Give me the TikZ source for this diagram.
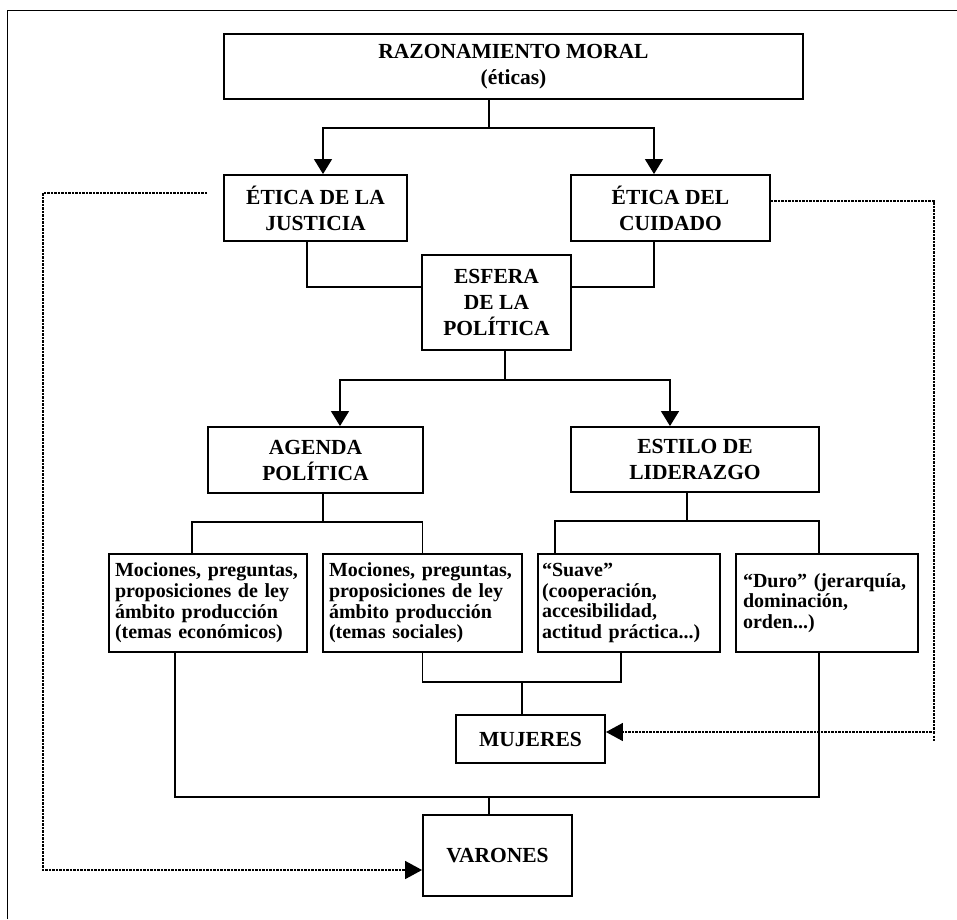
\documentclass[tikz,border=0pt]{standalone}
\usepackage{fontspec}
\setmainfont{Liberation Serif}
\usetikzlibrary{arrows.meta, calc, positioning}

\begin{document}
\begin{tikzpicture}[x=1pt, y=1pt,
	box/.style={draw, line width=1.9pt, inner sep=0pt, align=center, font=\fontsize{21.5}{26}\selectfont\bfseries},
	leaf/.style={draw, line width=1.9pt, inner xsep=6pt, inner ysep=0pt, minimum height=98pt, align=left, font=\fontsize{20}{20.7}\selectfont\bfseries},
	link/.style={line width=1.3pt},
	arr/.style={link, -{Triangle[width=18pt, length=15pt]}},
	dotline/.style={line width=1.6pt, dash pattern=on 2.4pt off 1.1pt},
	dotarr/.style={dotline, -{Triangle[width=18pt, length=17pt]}}]
			\useasboundingbox (0,0) rectangle (957,-919);
			\draw[line width=1pt] (7,-919) -- (7,-10) -- (957,-10);

			\node[box, minimum width=579pt, minimum height=65pt] (razon) at (513.5,-66.5) {RAZONAMIENTO MORAL\\(éticas)};
			\node[box, minimum width=183pt, minimum height=66pt] (justicia) at (315.5,-208) {ÉTICA DE LA\\JUSTICIA};
			\node[box, minimum width=199pt, minimum height=66pt] (cuidado) at (670.5,-208) {ÉTICA DEL\\CUIDADO};
			\node[box, minimum width=149pt, minimum height=95pt] (esfera) at (496.5,-302.5) {ESFERA\\DE LA\\POLÍTICA};
			\node[box, minimum width=215pt, minimum height=66pt] (agenda) at (315.5,-460) {AGENDA\\POLÍTICA};
			\node[box, minimum width=248pt, minimum height=65pt] (estilo) at (695,-459.5) {ESTILO DE\\LIDERAZGO};
			\node[leaf, text width=186pt] (mocEco) at (208,-603) {Mociones, preguntas,\\proposiciones de ley\\ámbito producción\\(temas económicos)};
			\node[leaf, text width=187pt] (mocSoc) at (422.5,-603) {Mociones, preguntas,\\proposiciones de ley\\ámbito producción\\(temas sociales)};
			\node[leaf, inner xsep=4pt, text width=174pt] (suave) at (629,-603) {“Suave”\\(cooperación,\\accesibilidad,\\actitud práctica...)};
			\node[leaf, inner xsep=7pt, text width=168pt] (duro) at (827,-603) {“Duro” (jerarquía,\\dominación,\\orden...)};
			\node[box, minimum width=149pt, minimum height=48pt] (mujeres) at (530.5,-739) {MUJERES};
			\node[box, minimum width=149pt, minimum height=81pt] (varones) at (497.5,-855.5) {VARONES};

			\coordinate (rz) at (489,-128);
			\draw[link] (razon.south -| rz) -- (rz);
			\draw[arr] (rz) -| ([xshift=7.5pt]justicia.north);
			\draw[arr] (rz) -| ([xshift=-16.5pt]cuidado.north);
			\draw[link] ([xshift=-8.5pt]justicia.south) |- ([yshift=15.5pt]esfera.west);
			\draw[link] ([xshift=-16.5pt]cuidado.south) |- ([yshift=15.5pt]esfera.east);

			\coordinate (ez) at (505,-380);
			\draw[link] (esfera.south -| ez) -- (ez);
			\draw[arr] (ez) -| ([xshift=24.5pt]agenda.north);
			\draw[arr] (ez) -| ([xshift=-25pt]estilo.north);

			\coordinate (az) at (323,-522);
			\draw[link] (agenda.south -| az) -- (az);
			\draw[link] (az) -| ([xshift=-16pt]mocEco.north);
			\draw[link] (az) -| (mocSoc.north);
			\coordinate (lz) at (687,-521);
			\draw[link] (estilo.south -| lz) -- (lz);
			\draw[link] (lz) -| ([xshift=-74pt]suave.north);
			\draw[link] (lz) -| ([xshift=-8pt]duro.north);

			\coordinate (mz) at (522,-682);
			\draw[link] (mocSoc.south) |- (mz) -| ([xshift=-8pt]suave.south);
			\draw[link] (mz) -- (mz |- mujeres.north);
			\coordinate (vz) at (489,-797);
			\draw[link] ([xshift=-33pt]mocEco.south) |- (vz) -| ([xshift=-8pt]duro.south);
			\draw[link] (vz) -- (vz |- varones.north);

			\coordinate (dl1) at (43,-193);
			\coordinate (dl2) at (43,-870);
			\draw[dotarr] ([shift={(-16pt,15pt)}]justicia.west) -- (dl1) -- (dl2) -- (dl2 -| varones.west);
			\coordinate (dr1) at (934,-201);
			\coordinate (dr2) at (934,-732);
			\draw[dotarr] ([yshift=7pt]cuidado.east) -- (dr1) -- (dr2) -- (dr2 -| mujeres.east);
			\draw[dotline] (dr2) -- ++(0,-10);
\end{tikzpicture}
\end{document}
